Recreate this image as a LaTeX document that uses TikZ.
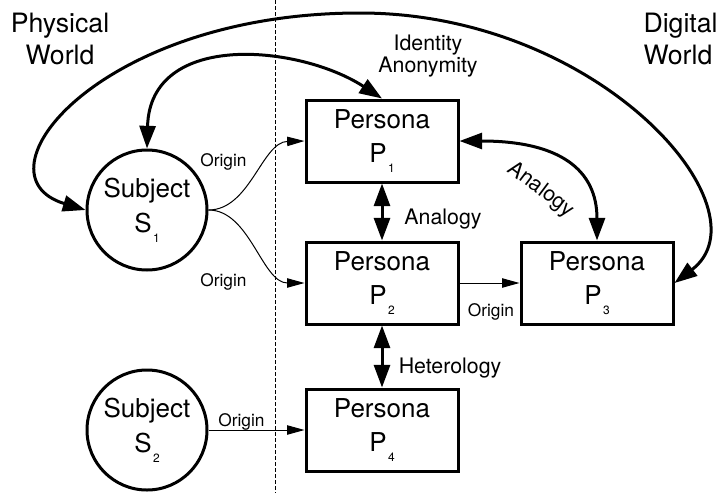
\documentclass[tikz,border=0pt]{standalone}
\usepackage{fontspec}
\setmainfont{TeX Gyre Heros}
\usetikzlibrary{arrows.meta}

\newcommand{\ix}[1]{\kern1pt\raisebox{-7.5pt}{\fontsize{9}{9}\selectfont #1}}

\tikzset{every picture/.style={line width=0.75pt}}
\tikzset{
	subject/.style={circle, draw, line width=2.25pt, minimum size=90pt, inner sep=0pt, align=center, font=\fontsize{19.5}{26}\selectfont, execute at begin node={\rule{0pt}{30pt}}},
	persona/.style={rectangle, draw, line width=2.25pt, minimum width=114pt, minimum height=61.5pt, inner sep=0pt, align=center, font=\fontsize{19.5}{26}\selectfont, execute at begin node={\rule{0pt}{20pt}}},
	world/.style={inner sep=0pt, align=center, font=\fontsize{20}{24}\selectfont},
	lbl/.style={inner sep=0pt, align=center, font=\fontsize{16}{16.5}\selectfont},
	orig/.style={inner sep=0pt, font=\fontsize{13}{13}\selectfont},
	link/.style={line width=2.25pt, {Triangle[length=17pt,width=12pt]}-{Triangle[length=17pt,width=12pt]}},
	feed/.style={line width=0.75pt, -{Triangle[length=13pt,width=7pt]}},
}

\begin{document}
\begin{tikzpicture}[x=0.75pt,y=0.75pt,yscale=-1,xscale=1]
		\useasboundingbox (0,0) rectangle (717,493);
		
		%Straight Lines [border physical / digital] 
		\coordinate (bordertop) at (275,0);
		\coordinate (borderbot) at (275,493);
		\draw [dash pattern=on 3pt off 1.5pt] (bordertop) -- (borderbot);
		
		%Shape: Circle [subjects] 
		\node [subject] (s1) at (147,210) {Subject\\S\ix{1}};
		\node [subject] (s2) at (147,430) {Subject\\S\ix{2}};
		
		%Shape: Rectangle [personas] 
		\node [persona] (p1) at (382,141) {Persona\\P\ix{1}};
		\node [persona] (p2) at (382,283) {Persona\\P\ix{2}};
		\node [persona] (p3) at (597,283) {Persona\\P\ix{3}};
		\node [persona] (p4) at (382,430) {Persona\\P\ix{4}};
		
		%Curve Lines [origin] 
		\draw [feed] (s1.east) .. controls (250,210) and (262,142) .. (p1.west);
		\draw [feed] (s1.east) .. controls (250,210) and (262,283) .. (p2.west);
		
		%Straight Lines [origin] 
		\draw [feed] (p2.east) -- (p3.west);
		\draw [feed] (s2.east) -- (p4.west);
		
		%Straight Lines [double arrows] 
		\draw [link] (p1.south) -- (p2.north);
		\draw [link] (p2.south) -- (p4.north);
		
		%Curve Lines [double arrows] 
		\draw [link] (p1.east) .. controls (560,141) and (597,170) .. (p3.north);
		\draw [link] (s1.north) .. controls (150,30) and (300,45) .. (p1.north);
		\coordinate (apex) at (360,13);
		\draw [link] (s1.west) .. controls (-30,175) and (100,13) .. (apex) .. controls (600,13) and (770,210) .. (p3.east);
		
		% Text Node
		\node [world] (physlbl) at (60,39) {Physical\\World};
		% Text Node
		\node [world, align=left, anchor=west] (digilbl) at (643,39) {Digital\\World};
		% Text Node
		\node [lbl] (identlbl) at (428,56) {Identity\\Anonymity};
		% Text Node
		\node [lbl] (analogylbl) at (443,219) {Analogy};
		% Text Node
		\node [lbl, rotate=-37] (analogyrot) at (541,190) {Analogy};
		% Text Node
		\node [lbl] (heterolbl) at (450,368) {Heterology};
		% Text Node
		\node [orig] (origa) at (223.5,162) {Origin};
		% Text Node
		\node [orig] (origb) at (223.5,282) {Origin};
		% Text Node
		\node [orig] (origc) at (491,312) {Origin};
		% Text Node
		\node [orig] (origd) at (241.5,422) {Origin};
		
\end{tikzpicture}
\end{document}
